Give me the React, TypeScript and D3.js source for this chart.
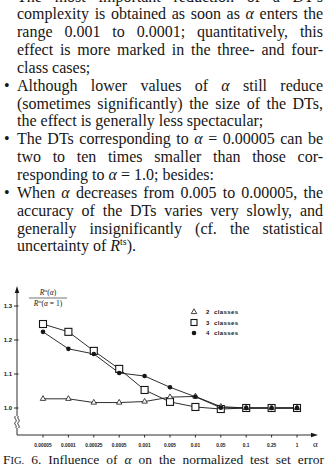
import { useMemo } from 'react';
import * as d3 from 'd3';

// α values on the horizontal axis (categorical, evenly spaced)
const alphas = ['0.00005', '0.0001', '0.00025', '0.0005', '0.001', '0.005', '0.01', '0.05', '0.1', '0.25', '1'];

// Rts(α) / Rts(α = 1) per number of classes
const twoClasses = [1.027, 1.027, 1.016, 1.016, 1.019, 1.032, 1.034, 1.004, 1.0, 1.0, 1.0];
const threeClasses = [1.247, 1.224, 1.168, 1.115, 1.053, 1.018, 1.003, 0.997, 1.0, 1.0, 1.0];
const fourClasses = [1.224, 1.174, 1.159, 1.103, 1.094, 1.061, 1.033, 1.001, 1.0, 1.0, 1.0];

const yTicks = [1.0, 1.1, 1.2, 1.3];
const legendNums = ['2', '3', '4'];

// Body text. _x_ = italic, ^x^ = superscript, ~x~ = small caps
const bodyLines: { text: string; bullet?: boolean; justify: boolean }[] = [
  { text: "The most important reduction of a DT's", bullet: true, justify: true },
  { text: 'complexity is obtained as soon as _α_ enters the', justify: true },
  { text: 'range 0.001 to 0.0001; quantitatively, this', justify: true },
  { text: 'effect is more marked in the three- and four-', justify: true },
  { text: 'class cases;', justify: false },
  { text: 'Although lower values of _α_ still reduce', bullet: true, justify: true },
  { text: '(sometimes significantly) the size of the DTs,', justify: true },
  { text: 'the effect is generally less spectacular;', justify: false },
  { text: 'The DTs corresponding to _α_ = 0.00005 can be', bullet: true, justify: true },
  { text: 'two to ten times smaller than those cor-', justify: true },
  { text: 'responding to _α_ = 1.0; besides:', justify: false },
  { text: 'When _α_ decreases from 0.005 to 0.00005, the', bullet: true, justify: true },
  { text: 'accuracy of the DTs varies very slowly, and', justify: true },
  { text: 'generally insignificantly (cf. the statistical', justify: true },
  { text: 'uncertainty of _R_^ts^).', justify: false },
];
const caption = 'F~IG.~ 6. Influence of _α_ on the normalized test set error';
const yLabelTop = '_R_^ts^(_α_)';
const yLabelBottom = '_R_^ts^(_α_ = 1)';

const SERIF = "'Liberation Serif', 'Times New Roman', serif";
const SANS = "'Liberation Sans', Arial, sans-serif";
const INK = '#161616';
const BODY_FS = 16;

type Run = { t: string; it?: boolean; sup?: boolean; sc?: boolean };
type Placed = { x: number; run: Run; size: number };

const ctx = document.createElement('canvas').getContext('2d')!;

function parseWord(w: string): Run[] {
  return w.split(/(_[^_]+_|\^[^^]+\^|~[^~]+~)/).filter(Boolean).map(p => {
    if (p.startsWith('_')) return { t: p.slice(1, -1), it: true };
    if (p.startsWith('^')) return { t: p.slice(1, -1), sup: true };
    if (p.startsWith('~')) return { t: p.slice(1, -1), sc: true };
    return { t: p };
  });
}

const runSize = (r: Run, fs: number) => (r.sup ? fs * 0.62 : r.sc ? fs * 0.78 : fs);

function runWidth(r: Run, fs: number, family: string) {
  ctx.font = `${r.it ? 'italic ' : ''}${runSize(r, fs)}px ${family}`;
  return ctx.measureText(r.t).width;
}

// lays out a line word by word; justified lines spread the gaps to fill x0..x1
function layout(text: string, x0: number, x1: number, fs: number, justify: boolean, family = SERIF) {
  const words = text.split(' ').map(parseWord);
  const widths = words.map(rs => d3.sum(rs, r => runWidth(r, fs, family)));
  ctx.font = `${fs}px ${family}`;
  const space = ctx.measureText(' ').width;
  const gap = justify && words.length > 1
    ? (x1 - x0 - d3.sum(widths)) / (words.length - 1)
    : space;
  const out: Placed[] = [];
  let x = x0;
  words.forEach((rs, i) => {
    rs.forEach(r => {
      out.push({ x, run: r, size: runSize(r, fs) });
      x += runWidth(r, fs, family);
    });
    if (i < words.length - 1) x += gap;
  });
  return { runs: out, width: x - x0 };
}

function Runs({ runs, y, fs, family = SERIF }: { runs: Placed[]; y: number; fs: number; family?: string }) {
  return (
    <>
      {runs.map((p, i) => (
        <text key={i} x={p.x} y={p.run.sup ? y - fs * 0.38 : y}
          fontFamily={family} fontSize={p.size}
          fontStyle={p.run.it ? 'italic' : 'normal'} fill={INK}>
          {p.run.t}
        </text>
      ))}
    </>
  );
}

export default function App() {
  const W = 327, H = 467;

  const x = d3.scalePoint<string>().domain(alphas).range([43, 297]);
  const y = d3.scaleLinear().domain([1, 1.3]).range([408, 306]);
  const axisX = 17, axisY = 435;

  const line = d3.line<number>().x((_, i) => x(alphas[i])!).y(d => y(d));
  const tri = d3.symbol().type(d3.symbolTriangle).size(13)()!;

  const text = useMemo(() => bodyLines.map((l, i) => ({
    ...layout(l.text, 17, 323, BODY_FS, l.justify),
    y: 1.5 + i * 17.85,
    bullet: l.bullet,
  })), []);
  const cap = useMemo(() => layout(caption, 3, 324, 13.5, true), []);
  const lblTop = useMemo(() => layout(yLabelTop, 0, 0, 7.5, false), []);
  const lblBot = useMemo(() => layout(yLabelBottom, 0, 0, 7.5, false), []);

  const shift = (l: { runs: Placed[] }, cx: number, w: number) =>
    l.runs.map(p => ({ ...p, x: p.x + cx - w / 2 }));

  const square = (cx: number, cy: number, s = 7) =>
    <rect x={cx - s / 2} y={cy - s / 2} width={s} height={s} fill="#fff" stroke={INK} strokeWidth={1.1} />;
  const triangle = (cx: number, cy: number) =>
    <path d={tri} transform={`translate(${cx},${cy})`} fill="#fff" stroke={INK} strokeWidth={0.8} />;
  const dot = (cx: number, cy: number) => <circle cx={cx} cy={cy} r={2.3} fill={INK} />;

  return (
    <div style={{ position: 'absolute', left: 0, top: 0 }}>
      <svg width={W} height={H} style={{ display: 'block', background: '#fff' }}>
        {/* body paragraphs */}
        {text.map((l, i) => (
          <g key={i}>
            {l.bullet && <text x={4} y={l.y} fontFamily={SERIF} fontSize={BODY_FS} fill={INK}>•</text>}
            <Runs runs={l.runs} y={l.y} fs={BODY_FS} />
          </g>
        ))}

        {/* axes */}
        <g stroke={INK} strokeWidth={0.9} fill="none">
          <line x1={axisX} x2={axisX} y1={291} y2={416} />
          <path d={`M${axisX - 1.5},416 c -2.5,2 2.5,4 0,6 c -2.5,2 2.5,4 0,6`} />
          <path d={`M${axisX + 1.5},416 c -2.5,2 2.5,4 0,6 c -2.5,2 2.5,4 0,6`} />
          <line x1={axisX} x2={axisX} y1={428} y2={axisY} />
          <line x1={axisX} x2={313} y1={axisY} y2={axisY} />
          {yTicks.map(t => <line key={t} x1={axisX - 3} x2={axisX + 1.5} y1={y(t)} y2={y(t)} />)}
          {alphas.map(a => <line key={a} x1={x(a)!} x2={x(a)!} y1={axisY} y2={axisY + 2.5} />)}
        </g>
        <path d={`M${axisX},286 l -2.2,7 l 4.4,0 z`} fill={INK} />
        <path d={`M318,${axisY} l -7,-2.2 l 0,4.4 z`} fill={INK} />

        {yTicks.map(t => (
          <text key={t} x={12} y={y(t) + 2} textAnchor="end" fontFamily={SANS}
            fontSize={6} fontWeight="bold" fill={INK}>{t.toFixed(1)}</text>
        ))}
        {alphas.map(a => (
          <text key={a} x={x(a)!} y={447} textAnchor="middle" fontFamily={SANS}
            fontSize={4.8} fontWeight="bold" fill={INK}>{a}</text>
        ))}
        <text x={313} y={447} fontFamily={SERIF} fontSize={9} fill={INK}>α</text>

        {/* y label: normalized test set error */}
        <Runs runs={shift(lblTop, 48, lblTop.width)} y={295} fs={7.5} />
        <line x1={29} x2={67} y1={298} y2={298} stroke={INK} strokeWidth={0.6} />
        <Runs runs={shift(lblBot, 48, lblBot.width)} y={306} fs={7.5} />

        {/* series lines */}
        <g fill="none" stroke={INK} strokeWidth={0.9}>
          <path d={line(twoClasses)!} />
          <path d={line(threeClasses)!} />
          <path d={line(fourClasses)!} />
        </g>
        {threeClasses.map((v, i) => <g key={'s' + i}>{square(x(alphas[i])!, y(v))}</g>)}
        {twoClasses.map((v, i) => <g key={'t' + i}>{triangle(x(alphas[i])!, y(v))}</g>)}
        {fourClasses.map((v, i) => <g key={'d' + i}>{dot(x(alphas[i])!, y(v))}</g>)}

        {/* legend */}
        {legendNums.map((n, i) => {
          const ly = 312 + i * 10.5;
          return (
            <g key={n}>
              {i === 0 ? triangle(194, ly) : i === 1 ? square(194, ly, 6) : dot(194, ly)}
              <text x={206} y={ly + 2.2} fontFamily={SANS} fontSize={6} fontWeight="bold" fill={INK}>{n}</text>
              <text x={214} y={ly + 2.2} fontFamily={SANS} fontSize={6} fontWeight="bold"
                letterSpacing={0.4} fill={INK}>classes</text>
            </g>
          );
        })}

        {/* figure caption */}
        <Runs runs={cap.runs} y={464} fs={13.5} />
      </svg>
    </div>
  );
}
